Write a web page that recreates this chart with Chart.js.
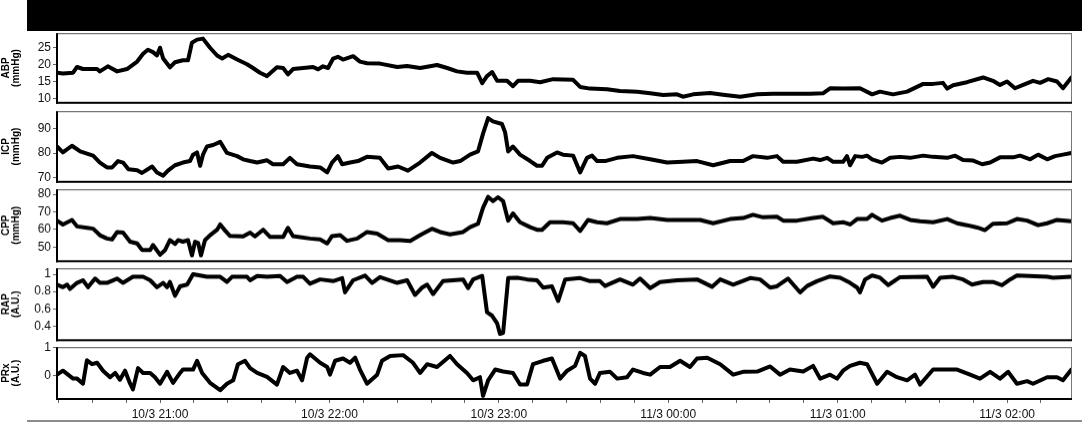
<!DOCTYPE html>
<html>
<head>
<meta charset="utf-8">
<script src="https://cdn.jsdelivr.net/npm/chart.js@4.4.1/dist/chart.umd.min.js"></script>
<style>
  html, body { margin: 0; padding: 0; background: #fff; overflow: hidden; }
  body { width: 1084px; height: 423px; position: relative; }
  .bar { position: absolute; left: 27px; top: 0; width: 1055px; height: 31px; background: #000; }
  .baseline { position: absolute; left: 27px; top: 420px; width: 1055px; height: 2px; background: #8c8c8c; }
</style>
</head>
<body>
<div class="bar"></div>
<div class="baseline"></div>
<script>
// time axis in minutes after 10/3 20:00
const xMin = 23.5
const xMax = 383
const hourTicks = [60, 120, 180, 240, 300, 360]
const hourLabels = ['10/3 21:00', '10/3 22:00', '10/3 23:00', '11/3 00:00', '11/3 01:00', '11/3 02:00']
const minorTicks = Array.from({ length: 30 }, (_, i) => 24 + 12 * i)

const abpTicks = [10, 15, 20, 25]
const icpTicks = [70, 80, 90]
const cppTicks = [50, 60, 70, 80]
const rapTicks = [0.4, 0.6, 0.8, 1]
const prxTicks = [0, 1]

const abpTime = [23.5, 25.6, 29.2, 30.6, 32.7, 37.7, 38.7, 41.5, 44.8, 48.3, 51.9, 54, 55.7, 57.5, 58.9, 60, 61.1, 63.5, 65.3, 68.1, 69.9, 71.3, 73.1, 75.2, 77.7, 80.2, 82, 84.1, 87.3, 90.8, 92.9, 95.4, 97.9, 101.4, 103.6, 105.3, 107.1, 110.7, 114.2, 116, 117.7, 119.5, 121.3, 123, 124.8, 128.4, 130.8, 133.3, 137.9, 144, 147.5, 152.1, 158.1, 161.7, 165.2, 168.7, 172.3, 174.1, 175.8, 177.6, 179.4, 182.9, 185, 186.8, 191.1, 194.6, 199.2, 206.3, 208.8, 212.3, 218.3, 222.9, 229, 233.6, 238.2, 243.1, 245.2, 248.8, 254.8, 259.4, 265.5, 271.5, 277.1, 283.1, 290.2, 294.8, 297.3, 301.9, 307.9, 312.2, 315, 319.6, 324.6, 328.1, 330.3, 333.8, 337.3, 338.8, 340.9, 345.8, 351.5, 355, 357.5, 360, 362.8, 365.7, 369.2, 371.7, 374.6, 377.7, 379.8, 382.8]
const abpVal = [17.6, 17.4, 17.6, 19.3, 18.7, 18.7, 18, 19.5, 18, 18.7, 20.9, 23.2, 24.4, 23.7, 22.7, 25, 21.8, 19.2, 20.7, 21.3, 21.3, 26.5, 27.4, 27.7, 25, 22.7, 21.8, 22.9, 21.5, 20.1, 19, 17.6, 16.6, 19.2, 19, 17.1, 18.7, 19, 19.3, 18.6, 19.5, 19, 21.8, 22.3, 21.5, 22.5, 20.9, 20.4, 20.3, 19.3, 19.6, 19, 19.9, 19, 18, 17.6, 17.6, 14.5, 16.6, 17.8, 15.2, 15.2, 13.6, 15.2, 15.2, 14.8, 15.7, 15.5, 13.4, 12.9, 12.7, 12.2, 12, 11.5, 11, 11.2, 10.5, 11.2, 11.6, 11.1, 10.5, 11.2, 11.4, 11.4, 11.4, 11.5, 13, 12.9, 13, 11.2, 12, 11.2, 12, 13.4, 14.3, 14.3, 14.6, 12.9, 13.9, 14.8, 16.2, 15.2, 14, 15, 13, 14, 15.2, 14.6, 15.7, 15, 13, 16.2]

const icpTime = [23.5, 25.6, 28.8, 31.7, 34.1, 36.3, 38.7, 41.2, 43, 45.1, 46.9, 48.8, 51.9, 53.6, 57.2, 58.9, 61.1, 62.8, 65.3, 68.1, 70.6, 71.7, 73.1, 74.2, 75.2, 76.6, 78.8, 81.3, 83.7, 87.3, 89.4, 91.9, 94.4, 97.9, 100, 103.6, 106, 108.5, 113.1, 116.7, 119.2, 120.9, 123, 124.5, 127.3, 130.1, 133.3, 137.9, 140.8, 144.3, 147.8, 152.1, 156.3, 159.2, 163.8, 166.3, 169.8, 172.6, 174.4, 176.2, 177.9, 181.1, 182.2, 183.3, 185, 187.5, 191.1, 193.5, 195.3, 197.1, 200.6, 202.7, 206.3, 208.8, 211.2, 213, 214.8, 217.6, 221.9, 227.5, 233.6, 239.6, 245.2, 250.2, 255.9, 261.9, 266.5, 270, 275, 278.5, 280.7, 285.6, 291.3, 293.8, 296.3, 298.4, 301.9, 303.3, 304.4, 306.2, 308.7, 310.4, 312.2, 315.7, 318.6, 322.1, 325.7, 330.3, 333.8, 338.8, 341.6, 344.4, 348, 351.2, 354, 357.5, 362.1, 364.6, 368.2, 371, 374.2, 377, 379.8, 382.8]
const icpVal = [82.7, 80.3, 83, 80.7, 79.8, 79, 76.2, 74.2, 74.2, 76.8, 76.2, 73.5, 73.1, 72, 74.6, 72.2, 70.9, 72.9, 75.1, 76.2, 76.8, 79.4, 80.3, 74.9, 79.4, 82.7, 83.3, 84.6, 80.1, 78.8, 77.5, 76.8, 76.2, 77.1, 75.5, 75.5, 78.1, 75.5, 74.6, 74.2, 72.2, 76.2, 78.8, 75.5, 76.2, 76.8, 78.5, 78.1, 73.8, 74.6, 72.9, 76.2, 80.1, 78.1, 76.2, 76.8, 79.4, 80.7, 87.9, 94.2, 92.9, 91.8, 88.5, 80.7, 82.7, 79.4, 76.8, 74.9, 74.9, 78.1, 80.3, 79.4, 79, 72.2, 78.1, 79, 76.8, 76.8, 78.1, 78.8, 77.5, 76.2, 76.5, 76.8, 75.1, 76.8, 76.8, 78.8, 78.1, 78.8, 76.5, 76.5, 77.8, 77.2, 78.1, 76.5, 76.5, 78.8, 75.1, 78.8, 78.5, 79, 77.5, 76.2, 78.1, 78.5, 78.1, 79, 78.5, 78.1, 79, 77.2, 77, 75.5, 76.2, 78.3, 78.3, 79, 77.5, 79.4, 77.5, 78.8, 79.4, 80.1]

const cppTime = [23.5, 25.6, 28.8, 30.6, 34.1, 36.3, 38.7, 41.2, 43, 44.8, 46.9, 49.4, 51.9, 53.6, 56.5, 57.5, 60, 61.8, 63.5, 65.3, 66.4, 68.1, 69.9, 71.3, 72.4, 73.5, 74.5, 75.9, 77.7, 80.2, 81.3, 83, 84.8, 89.4, 91.9, 93.6, 96.5, 99, 103.6, 105.3, 107.1, 113.1, 116.7, 119.2, 120.9, 123.8, 126.2, 129.8, 133.3, 136.9, 140.8, 145, 148.6, 152.1, 156.3, 159.2, 162.7, 167.3, 169.8, 172.6, 174.4, 176.2, 177.9, 179.7, 181.5, 183.3, 185, 187.5, 191.1, 193.5, 195.3, 198.1, 202.7, 206.3, 208.8, 211.6, 214.8, 218.3, 222.9, 229, 233.6, 239.6, 251.3, 255.9, 261.9, 266.5, 270, 273.6, 278.5, 280.7, 285.6, 291.3, 294.8, 298.4, 301.9, 304.4, 306.9, 310.4, 312.2, 315.7, 318.6, 322.1, 325.7, 329.2, 333.8, 338.8, 342.3, 345.8, 349.4, 352.2, 355, 360, 363.5, 367.1, 371, 374.2, 377.7, 382.8]
const cppVal = [65, 62.8, 65.4, 61.7, 60.9, 60.4, 56.7, 54.8, 54.3, 58.5, 58.2, 53, 52, 48.3, 48.3, 51.1, 45.6, 48.3, 53.9, 51.7, 53.9, 53, 53.9, 45.2, 53, 52.2, 45.2, 53.9, 56.7, 59.8, 62.8, 59.4, 56.3, 56, 58.2, 56, 59.8, 55.7, 55.7, 60.9, 56.2, 54.8, 54.3, 52, 56.2, 56.7, 53.5, 54.8, 58.5, 57.6, 53.9, 53.9, 53.5, 56.7, 60.4, 58.5, 57.2, 58.5, 61.3, 63.2, 72.4, 78.5, 76.1, 78.3, 76.1, 65, 69.1, 64.1, 61.3, 59.8, 59.8, 64.1, 64.1, 63.5, 59.1, 65.4, 64.1, 63.5, 65.9, 65.9, 66.5, 65.4, 65.4, 63.5, 65.9, 66.5, 68.3, 66.9, 67.2, 65, 65, 66.5, 67.2, 63.5, 64.1, 62.8, 65.9, 65.9, 68.3, 65, 66.5, 67.8, 65.4, 64.6, 64.1, 65.9, 63.5, 62.4, 61.1, 59.6, 63.2, 63.5, 65.9, 65, 62.4, 63.5, 65.4, 64.6]

const rapTime = [23.5, 25.6, 27.1, 28.1, 30.6, 32.7, 34.5, 37, 38.7, 41.2, 44.8, 46.9, 50.4, 54, 56.5, 58.9, 61.1, 62.5, 63.5, 65.3, 67.1, 69.6, 71.7, 76.6, 81.3, 83.7, 85.5, 90.8, 91.9, 94.4, 97.9, 102.5, 105, 108.5, 110.7, 113.1, 116.7, 121.3, 124.5, 125.5, 128.4, 132.6, 135.1, 137.9, 144, 147.5, 150.3, 152.8, 154.6, 156.7, 160.2, 167.3, 169.1, 170.9, 174.1, 175.8, 177.6, 179.4, 180.4, 181.5, 183.3, 186.5, 190, 193.5, 195.7, 198.8, 201, 203.5, 208.8, 212.3, 215.8, 217.6, 222.9, 227.5, 230, 233.6, 237.1, 243.1, 250.2, 255.5, 258.4, 263, 269, 272.5, 276.1, 278.5, 282.4, 286.7, 289.2, 292.7, 297.3, 300.9, 304.4, 306.9, 307.9, 309.7, 312.2, 315, 317.9, 322.1, 331.7, 333.8, 336.3, 340.9, 344.4, 347.6, 351.5, 355, 358.2, 361.1, 363.5, 374.2, 376.3, 382.8]
const rapVal = [0.88, 0.85, 0.88, 0.83, 0.90, 0.93, 0.85, 0.95, 0.90, 0.90, 0.95, 0.90, 0.97, 0.97, 0.93, 0.85, 0.90, 0.85, 0.91, 0.75, 0.86, 0.88, 1.0, 0.97, 0.97, 0.91, 0.97, 0.97, 0.93, 0.98, 0.97, 0.98, 0.91, 0.97, 0.97, 0.89, 0.94, 0.92, 0.955, 0.79, 0.93, 0.985, 0.90, 0.966, 0.90, 0.93, 0.76, 0.845, 0.88, 0.77, 0.92, 0.94, 0.84, 0.94, 0.98, 0.56, 0.52, 0.43, 0.31, 0.32, 0.955, 0.96, 0.94, 0.93, 0.845, 0.86, 0.69, 0.94, 0.955, 0.92, 0.92, 0.864, 0.94, 0.88, 0.95, 0.84, 0.91, 0.93, 0.94, 0.855, 0.94, 0.88, 0.955, 0.94, 0.845, 0.86, 0.95, 0.79, 0.864, 0.92, 0.975, 0.96, 0.90, 0.845, 0.79, 0.94, 0.985, 0.96, 0.874, 0.966, 0.97, 0.855, 0.96, 0.97, 0.94, 0.88, 0.91, 0.91, 0.874, 0.94, 0.985, 0.97, 0.96, 0.97]

const prxTime = [23.5, 25.6, 29.2, 30.6, 32.7, 34.1, 35.9, 37.7, 39.8, 42.3, 44.1, 45.8, 47.6, 49.4, 50.4, 52.2, 54, 56.5, 58.2, 60, 62.5, 64.6, 67.1, 68.1, 71.7, 73.1, 74.9, 77.7, 81.3, 83.7, 85.9, 87.6, 90.1, 91.9, 94.4, 97.9, 101.4, 103.6, 106, 108.5, 110.3, 112.1, 113.1, 116.7, 119.2, 120.2, 122, 124.8, 127.3, 129.1, 130.8, 133.3, 136.9, 138.6, 141.5, 146.1, 149.6, 152.1, 154.6, 158.1, 162.7, 165.2, 168.7, 170.9, 173.3, 174.4, 176.2, 178.7, 181.5, 185, 187.5, 190, 192.1, 195.7, 198.8, 201.7, 204.2, 207, 208.8, 210.5, 212.3, 214.1, 215.8, 219.4, 221.9, 225.4, 227.5, 231.1, 233.6, 237.1, 240.6, 244.2, 247.7, 250.2, 253.8, 258.4, 263, 266.5, 271.5, 276.1, 279.6, 283.1, 287.8, 291.3, 293.8, 297.3, 299.8, 301.9, 304.4, 307.9, 310.4, 314, 317.5, 321, 324.6, 327.4, 329.2, 333.8, 342.3, 346.9, 350.4, 354, 357.5, 360.4, 363.5, 367.1, 369.2, 374.2, 377.7, 379.8, 382.8]
const prxVal = [0.03, 0.17, -0.11, -0.11, -0.29, 0.54, 0.40, 0.45, 0.17, -0.06, 0.09, -0.15, 0.17, -0.29, -0.49, 0.26, 0.09, 0.09, -0.06, -0.29, 0.13, -0.26, 0.09, 0.21, 0.21, 0.52, 0.09, -0.26, -0.52, -0.29, -0.17, 0.40, 0.52, 0.26, 0.09, -0.05, -0.32, 0.30, 0.09, 0.17, -0.17, 0.63, 0.75, 0.45, 0.30, 0.03, 0.52, 0.60, 0.45, 0.63, 0.21, -0.29, 0.03, 0.52, 0.69, 0.72, 0.45, 0.09, 0.40, 0.30, 0.69, 0.40, 0.09, -0.17, -0.06, -0.72, -0.17, 0.21, 0.14, 0.09, -0.32, -0.32, 0.40, 0.52, 0.60, -0.11, 0.17, 0.34, 0.80, 0.69, -0.11, -0.29, 0.09, 0.13, -0.11, -0.06, 0.21, 0.09, 0.03, 0.30, 0.30, 0.52, 0.30, 0.60, 0.63, 0.40, 0.03, 0.13, 0.14, 0.32, 0.03, 0.21, 0.14, 0.34, -0.11, 0.03, -0.11, 0.17, 0.34, 0.45, 0.40, -0.29, 0.13, -0.06, -0.17, 0.03, -0.32, 0.21, 0.21, 0.03, -0.11, 0.13, -0.11, 0.13, -0.29, -0.2, -0.29, -0.06, -0.06, -0.17, 0.21]

const FONT = '"Liberation Sans", Arial, sans-serif'

const panels = [
  { title: ['ABP', '(mmHg)'], t: abpTime, v: abpVal, ticks: abpTicks, min: 8.7, max: 29.3, top: 32, bottom: 104 },
  { title: ['ICP', '(mmHg)'], t: icpTime, v: icpVal, ticks: icpTicks, min: 68.4, max: 97, top: 110, bottom: 183 },
  { title: ['CPP', '(mmHg)'], t: cppTime, v: cppVal, ticks: cppTicks, min: 41.9, max: 82.8, top: 188, bottom: 261.5 },
  { title: ['RAP', '(A.U.)'], t: rapTime, v: rapVal, ticks: rapTicks, min: 0.236, max: 1.068, top: 267, bottom: 340.5 },
  { title: ['PRx', '(A.U.)'], t: prxTime, v: prxVal, ticks: prxTicks, min: -0.83, max: 1, top: 346, bottom: 399 },
]

// box round each panel: thin grey top/right, heavier black left/bottom
const frame = {
  id: 'frame',
  afterDatasetsDraw(chart) {
    const { ctx, chartArea: a } = chart
    ctx.save()
    ctx.fillStyle = '#555'
    ctx.fillRect(a.left, a.top, a.right - a.left, 1)
    ctx.fillStyle = '#777'
    ctx.fillRect(a.right - 1, a.top, 1, a.bottom - a.top)
    ctx.fillStyle = '#000'
    ctx.fillRect(a.left - 1, a.top, 2, a.bottom - a.top + 1)
    ctx.fillRect(a.left - 1, a.bottom - 1, a.right - a.left + 1, 2)
    ctx.restore()
  },
}

function makePanel(p, isLast) {
  const padTop = 8
  const padBottom = isLast ? 0 : 8
  const xAxisH = isLast ? 22 : 0
  const h = (p.bottom - p.top) + padTop + padBottom + xAxisH

  const wrap = document.createElement('div')
  wrap.style.cssText = 'position:absolute;left:0;width:1084px;top:' + (p.top - padTop) + 'px;height:' + h + 'px'
  const canvas = document.createElement('canvas')
  wrap.appendChild(canvas)
  document.body.appendChild(wrap)

  new Chart(canvas, {
    type: 'line',
    data: {
      datasets: [{
        data: p.t.map((t, i) => ({ x: t, y: p.v[i] })),
        borderColor: '#000',
        borderWidth: 4,
        pointRadius: 0,
        tension: 0,
        borderJoinStyle: 'round',
        borderCapStyle: 'round',
      }],
    },
    options: {
      responsive: true,
      maintainAspectRatio: false,
      animation: false,
      layout: { padding: { top: padTop, bottom: padBottom, left: 0, right: 12 } },
      plugins: { legend: { display: false }, tooltip: { enabled: false } },
      scales: {
        x: {
          type: 'linear',
          min: xMin,
          max: xMax,
          display: isLast,
          afterFit: (s) => { s.height = xAxisH },
          afterBuildTicks: (s) => { s.ticks = minorTicks.map((v) => ({ value: v })) },
          grid: { drawOnChartArea: false, tickLength: 4, color: '#666' },
          border: { display: false },
          ticks: {
            autoSkip: false,
            maxRotation: 0,
            padding: 4,
            color: '#111',
            font: { family: FONT, size: 12 },
            callback: (v) => {
              const i = hourTicks.indexOf(v)
              return i < 0 ? '' : hourLabels[i]
            },
          },
        },
        y: {
          min: p.min,
          max: p.max,
          afterFit: (s) => { s.width = 57 },
          afterBuildTicks: (s) => { s.ticks = p.ticks.map((v) => ({ value: v })) },
          grid: { drawOnChartArea: false, tickLength: 4, color: '#666' },
          border: { display: false },
          ticks: {
            padding: 2,
            color: '#111',
            font: { family: FONT, size: 12 },
            callback: (v) => String(v),
          },
          title: {
            display: true,
            text: p.title,
            padding: { top: 1, bottom: 0 },
            color: '#000',
            font: { family: FONT, size: 10, weight: 'bold', lineHeight: 1 },
          },
        },
      },
    },
    plugins: [frame],
  })
}

panels.forEach((p, i) => makePanel(p, i === panels.length - 1))
</script>
</body>
</html>
